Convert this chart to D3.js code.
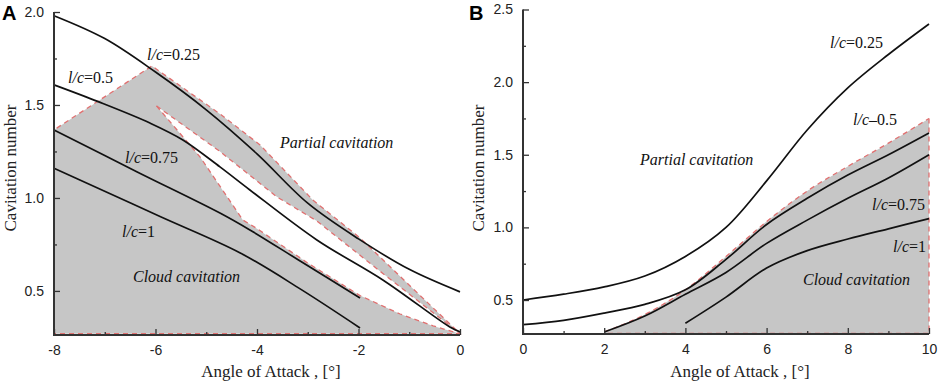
<!DOCTYPE html>
<html>
<head>
<meta charset="utf-8">
<script src="https://cdn.jsdelivr.net/npm/d3@7"></script>
<style>
  body { margin: 0; background: #fff; }
  .tick text { font-family: "Liberation Sans", Arial, sans-serif; font-size: 14px; fill: #222; }
  .axis line { stroke: #333; stroke-width: 1.3; }
</style>
</head>
<body>
<div id="chart"></div>
<script>
// Panel A: negative angles of attack, curves of cavitation number
const curveA025 = [[-8, 1.98], [-7, 1.857], [-6, 1.677], [-5, 1.474], [-4, 1.237], [-3, 0.972], [-2, 0.78], [-1, 0.616], [0, 0.495]];
const curveA05 = [[-8, 1.608], [-7.13, 1.518], [-6.11, 1.403], [-5.46, 1.312], [-4.73, 1.167], [-4.14, 1.043], [-2.82, 0.774], [-1.52, 0.559], [-0.2, 0.306], [0, 0.28]];
const curveA075 = [[-8, 1.366], [-6.36, 1.14], [-4.73, 0.919], [-4.14, 0.828], [-3.15, 0.661], [-1.97, 0.462]];
const curveA1 = [[-8, 1.16], [-7.49, 1.097], [-5.91, 0.90], [-4.33, 0.704], [-3.15, 0.511], [-1.97, 0.301]];

// Panel A: cloud cavitation region (outer border) and the partial cavitation sliver inside it
const regionAOuter = [[-8, 0.27], [-8, 1.366], [-6.07, 1.71], [-4.73, 1.452], [-3.94, 1.285], [-2.9, 0.989], [-1.97, 0.785], [0, 0.27]];
const sliverARight = [[-5.98, 1.495], [-4.73, 1.25], [-3.61, 1.006], [-2.82, 0.876], [-1.52, 0.594], [0, 0.27]];
const sliverALeft = [[-5.98, 1.495], [-5.12, 1.22], [-4.28, 0.882], [-4.0, 0.835], [-3.0, 0.65], [-1.97, 0.475], [-1.18, 0.376], [-0.53, 0.312], [0, 0.27]];

// Panel B: positive angles of attack
const curveB025 = [[0, 0.5], [1, 0.54], [2, 0.59], [3, 0.665], [4, 0.80], [5, 1.0], [6, 1.32], [7, 1.67], [8, 1.96], [9, 2.19], [10, 2.40]];
const curveB05 = [[0, 0.33], [1, 0.36], [2, 0.41], [3, 0.47], [4, 0.57], [5, 0.78], [6, 1.02], [7, 1.20], [8, 1.36], [9, 1.50], [10, 1.65]];
const curveB075 = [[2, 0.28], [3, 0.39], [4, 0.54], [5, 0.69], [6, 0.89], [7, 1.05], [8, 1.20], [9, 1.34], [10, 1.50]];
const curveB1 = [[4, 0.34], [5, 0.52], [6, 0.72], [7, 0.84], [8, 0.92], [9, 0.99], [10, 1.06]];
const regionBTop = [[2, 0.28], [3, 0.40], [4, 0.57], [5, 0.80], [6, 1.04], [7, 1.25], [8, 1.42], [9, 1.58], [10, 1.75]];

// Tick values
const aXTicks = [-8, -6, -4, -2, 0];
const aXMinor = [-7, -5, -3, -1];
const aYTicks = [0.5, 1.0, 1.5, 2.0];
const aYMinor = [0.75, 1.25, 1.75];
const bXTicks = [0, 2, 4, 6, 8, 10];
const bXMinor = [1, 3, 5, 7, 9];
const bYTicks = [0.5, 1.0, 1.5, 2.0, 2.5];
const bYMinor = [0.75, 1.25, 1.75, 2.25];

const width = 941, height = 384;
const regionBottom = 0.27;
const serif = "'Liberation Serif', 'Times New Roman', serif";

const svg = d3.select("#chart").append("svg")
    .attr("width", width)
    .attr("height", height);

function dashed(g, d) {
    g.append("path")
        .attr("d", d)
        .attr("fill", "none")
        .attr("stroke", "#e07070")
        .attr("stroke-width", 1.3)
        .attr("stroke-dasharray", "5,4");
}

// Draws one panel: regions, curves, axes (ticks inside), titles, annotations
function drawPanel(opt) {
    const x = d3.scaleLinear().domain(opt.xDomain).range(opt.xRange);
    const y = d3.scaleLinear().domain(opt.yDomain).range(opt.yRange);
    const g = svg.append("g");

    opt.regions(g, x, y);

    const smooth = d3.line().x(d => x(d[0])).y(d => y(d[1])).curve(d3.curveCatmullRom.alpha(0.5));
    opt.curves.forEach(c => {
        g.append("path")
            .attr("d", smooth(c))
            .attr("fill", "none")
            .attr("stroke", "#111")
            .attr("stroke-width", 1.7);
    });

    const bottom = opt.yRange[0], left = opt.xRange[0];
    const xAxis = g.append("g").attr("class", "axis")
        .attr("transform", `translate(0,${bottom})`)
        .call(d3.axisBottom(x).tickValues(opt.xTicks).tickSize(-6).tickSizeOuter(0).tickPadding(10));
    xAxis.selectAll(".tick text").text(d => d < 0 ? "-" + Math.abs(d) : d);
    g.append("g").attr("class", "axis")
        .attr("transform", `translate(0,${bottom})`)
        .call(d3.axisBottom(x).tickValues(opt.xMinor).tickSize(-3).tickSizeOuter(0).tickFormat(""));
    g.append("g").attr("class", "axis")
        .attr("transform", `translate(${left},0)`)
        .call(d3.axisLeft(y).tickValues(opt.yTicks).tickSize(-6).tickSizeOuter(0).tickPadding(10).tickFormat(d3.format(".1f")));
    g.append("g").attr("class", "axis")
        .attr("transform", `translate(${left},0)`)
        .call(d3.axisLeft(y).tickValues(opt.yMinor).tickSize(-3).tickSizeOuter(0).tickFormat(""));
    g.selectAll(".axis .domain").remove();

    // axis lines drawn by hand so the y axis stops at its top tick
    g.append("line")
        .attr("x1", left).attr("x2", opt.xRange[1])
        .attr("y1", bottom).attr("y2", bottom)
        .attr("stroke", "#333").attr("stroke-width", 2);
    g.append("line")
        .attr("x1", left).attr("x2", left)
        .attr("y1", bottom + 1).attr("y2", y(opt.yDomain[1]))
        .attr("stroke", "#333").attr("stroke-width", 2);

    g.append("text")
        .attr("x", opt.xTitleX).attr("y", 377)
        .attr("text-anchor", "middle")
        .style("font-family", serif).style("font-size", "17px").style("fill", "#222")
        .text("Angle of Attack , [°]");
    g.append("text")
        .attr("transform", `translate(${opt.yTitleX},${opt.yTitleY}) rotate(-90)`)
        .attr("text-anchor", "middle")
        .style("font-family", serif).style("font-size", "17px").style("fill", "#222")
        .text("Cavitation number");

    g.append("text")
        .attr("x", opt.letterX).attr("y", 20)
        .style("font-family", "'Liberation Sans', Arial, sans-serif")
        .style("font-size", "20px").style("font-weight", "bold")
        .text(opt.letter);

    opt.labels.forEach(l => {
        const t = g.append("text")
            .attr("x", l.x).attr("y", l.y)
            .style("font-family", serif).style("font-size", "16px").style("fill", "#111");
        if (l.lc) {
            t.append("tspan").style("font-style", "italic").text("l/c");
            t.append("tspan").text(l.lc);
        } else {
            t.style("font-style", "italic").text(l.text);
        }
    });
}

// ---- Panel A ----
drawPanel({
    xDomain: [-8, 0], xRange: [54, 460],
    yDomain: [0.263, 2.0], yRange: [335, 12],
    xTicks: aXTicks, xMinor: aXMinor, yTicks: aYTicks, yMinor: aYMinor,
    curves: [curveA025, curveA05, curveA075, curveA1],
    xTitleX: 271, yTitleX: 16, yTitleY: 168,
    letter: "A", letterX: 2,
    regions: (g, x, y) => {
        const path = d3.line().x(d => x(d[0])).y(d => y(d[1]));
        g.append("path")
            .attr("d", path(regionAOuter) + "Z")
            .attr("fill", "#c6c6c6");
        const sliver = sliverARight.concat(sliverALeft.slice().reverse());
        g.append("path")
            .attr("d", path(sliver) + "Z")
            .attr("fill", "#fff");
        dashed(g, path(regionAOuter) + "Z");
        dashed(g, path(sliverARight));
        dashed(g, path(sliverALeft));
    },
    labels: [
        { x: 147, y: 60, lc: "=0.25" },
        { x: 68, y: 83, lc: "=0.5" },
        { x: 125, y: 163, lc: "=0.75" },
        { x: 122, y: 237, lc: "=1" },
        { x: 280, y: 148, text: "Partial cavitation" },
        { x: 133, y: 282, text: "Cloud cavitation" }
    ]
});

// ---- Panel B ----
drawPanel({
    xDomain: [0, 10], xRange: [523, 929],
    yDomain: [0.266, 2.5], yRange: [334, 9.5],
    xTicks: bXTicks, xMinor: bXMinor, yTicks: bYTicks, yMinor: bYMinor,
    curves: [curveB025, curveB05, curveB075, curveB1],
    xTitleX: 740, yTitleX: 484, yTitleY: 168,
    letter: "B", letterX: 469,
    regions: (g, x, y) => {
        const path = d3.line().x(d => x(d[0])).y(d => y(d[1])).curve(d3.curveMonotoneX);
        const area = d3.area().x(d => x(d[0])).y0(y(regionBottom)).y1(d => y(d[1])).curve(d3.curveMonotoneX);
        g.append("path").attr("d", area(regionBTop)).attr("fill", "#c6c6c6");
        dashed(g, path(regionBTop));
        const last = regionBTop[regionBTop.length - 1];
        const first = regionBTop[0];
        dashed(g, `M${x(last[0])},${y(last[1])}L${x(last[0])},${y(regionBottom)}L${x(first[0])},${y(regionBottom)}`);
    },
    labels: [
        { x: 830, y: 48, lc: "=0.25" },
        { x: 853, y: 125, lc: "–0.5" },
        { x: 872, y: 210, lc: "=0.75" },
        { x: 893, y: 252, lc: "=1" },
        { x: 640, y: 165, text: "Partial cavitation" },
        { x: 803, y: 285, text: "Cloud cavitation" }
    ]
});
</script>
</body>
</html>
